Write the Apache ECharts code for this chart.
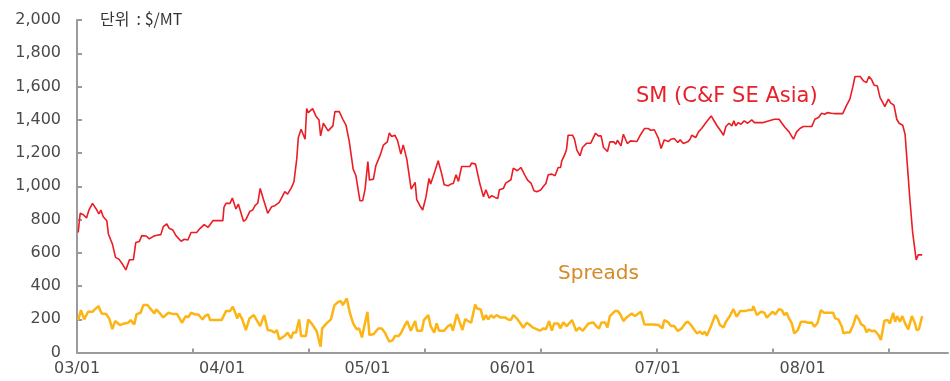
<!DOCTYPE html>
<html>
<head>
<meta charset="utf-8">
<script src="https://cdn.jsdelivr.net/npm/echarts@6/dist/echarts.min.js"></script>
<style>
  html, body { margin: 0; padding: 0; background: #ffffff; }
  #chart { width: 950px; height: 381px; }
</style>
</head>
<body>
<div id="chart"></div>
<script>
// Axis labels (yy/mm) and unit caption
const xLabels = ['03/01', '04/01', '05/01', '06/01', '07/01', '08/01'];
const axisEndLabel = '09/01';
const unitText = '단위  : $/MT';
const smName = 'SM (C&F SE Asia)';
const spreadName = 'Spreads';

// SM price, C&F South-East Asia ($/MT)
const smPrice = [
  ['2003-01-04',722],['2003-01-09',837],['2003-01-17',829],['2003-01-25',809],['2003-01-31',857],
  ['2003-02-09',897],['2003-02-20',857],['2003-02-25',833],['2003-03-02',857],['2003-03-08',817],
  ['2003-03-17',793],['2003-03-21',713],['2003-03-31',653],['2003-04-08',572],['2003-04-17',560],
  ['2003-04-26',529],['2003-05-04',497],['2003-05-13',558],['2003-05-23',558],['2003-05-29',662],
  ['2003-06-07',668],['2003-06-13',703],['2003-06-24',701],['2003-07-02',683],['2003-07-12',699],
  ['2003-07-21',705],['2003-07-31',709],['2003-08-06',757],['2003-08-15',773],['2003-08-21',747],
  ['2003-08-30',737],['2003-09-07',703],['2003-09-20',669],['2003-09-28',681],['2003-10-07',677],
  ['2003-10-15',722],['2003-10-29',722],['2003-11-07',747],['2003-11-17',769],['2003-11-27',753],
  ['2003-12-09',793],['2004-01-03',793],['2004-01-06',875],['2004-01-11',897],['2004-01-21',897],
  ['2004-01-27',929],['2004-02-05',863],['2004-02-11',893],['2004-02-24',789],['2004-03-01',799],
  ['2004-03-11',849],['2004-03-18',857],['2004-03-24',883],['2004-03-31',899],['2004-04-06',987],
  ['2004-04-14',923],['2004-04-25',837],['2004-05-05',877],['2004-05-13',883],['2004-05-24',903],
  ['2004-06-07',967],['2004-06-14',953],['2004-06-24',993],['2004-06-30',1027],['2004-07-07',1163],
  ['2004-07-11',1293],['2004-07-18',1343],['2004-07-28',1283],['2004-08-01',1467],['2004-08-05',1443],
  ['2004-08-16',1467],['2004-08-24',1423],['2004-09-01',1399],['2004-09-05',1303],['2004-09-12',1379],
  ['2004-09-24',1333],['2004-10-06',1363],['2004-10-11',1449],['2004-10-22',1449],['2004-10-31',1403],
  ['2004-11-08',1367],['2004-11-16',1273],['2004-11-26',1103],['2004-12-03',1063],['2004-12-13',913],
  ['2004-12-20',913],['2004-12-26',983],['2005-01-02',1148],['2005-01-06',1037],['2005-01-16',1043],
  ['2005-01-22',1123],['2005-02-02',1187],['2005-02-06',1187],['2005-02-10',1247],['2005-02-20',1267],
  ['2005-02-25',1321],['2005-03-03',1299],['2005-03-11',1307],['2005-03-18',1273],['2005-03-26',1193],
  ['2005-04-01',1249],['2005-04-10',1163],['2005-04-21',983],['2005-05-01',1023],['2005-05-05',919],
  ['2005-05-13',883],['2005-05-20',857],['2005-05-28',933],['2005-06-05',1047],['2005-06-09',1013],
  ['2005-06-20',1093],['2005-06-28',1153],['2005-07-07',1073],['2005-07-13',1009],['2005-07-23',1003],
  ['2005-07-30',1013],['2005-08-05',1017],['2005-08-12',1069],['2005-08-18',1029],['2005-08-26',1119],
  ['2005-09-16',1119],['2005-09-20',1139],['2005-09-30',1133],['2005-10-11',1013],['2005-10-20',937],
  ['2005-10-26',979],['2005-11-03',929],['2005-11-10',943],['2005-11-18',933],['2005-11-25',927],
  ['2005-11-29',979],['2005-12-09',987],['2005-12-15',1019],['2005-12-20',1013],['2005-12-28',1039],
  ['2006-01-03',1109],['2006-01-13',1093],['2006-01-22',1113],['2006-02-02',1063],['2006-02-08',1037],
  ['2006-02-17',1017],['2006-02-24',973],['2006-03-03',967],['2006-03-13',977],['2006-03-21',1003],
  ['2006-03-26',1017],['2006-04-01',1069],['2006-04-10',1073],['2006-04-18',1063],['2006-04-26',1113],
  ['2006-05-02',1113],['2006-05-05',1153],['2006-05-13',1193],['2006-05-17',1223],['2006-05-21',1307],
  ['2006-06-01',1307],['2006-06-06',1283],['2006-06-12',1217],['2006-06-20',1183],['2006-06-26',1233],
  ['2006-07-07',1259],['2006-07-17',1259],['2006-07-29',1319],['2006-08-05',1303],['2006-08-12',1303],
  ['2006-08-18',1233],['2006-08-28',1209],['2006-09-03',1267],['2006-09-13',1267],['2006-09-18',1253],
  ['2006-09-22',1277],['2006-10-01',1243],['2006-10-07',1313],['2006-10-17',1257],['2006-10-25',1273],
  ['2006-11-10',1269],['2006-11-20',1313],['2006-11-29',1347],['2006-12-09',1347],['2006-12-15',1337],
  ['2006-12-24',1340],['2007-01-03',1290],['2007-01-10',1227],['2007-01-18',1279],['2007-01-28',1269],
  ['2007-02-04',1283],['2007-02-12',1287],['2007-02-21',1263],['2007-02-27',1279],['2007-03-07',1257],
  ['2007-03-18',1267],['2007-03-24',1283],['2007-03-28',1307],['2007-04-07',1293],['2007-04-14',1327],
  ['2007-04-22',1347],['2007-05-03',1383],['2007-05-16',1423],['2007-05-21',1403],['2007-05-30',1367],
  ['2007-06-10',1329],['2007-06-16',1307],['2007-06-22',1359],['2007-06-30',1379],['2007-07-07',1363],
  ['2007-07-12',1393],['2007-07-17',1363],['2007-07-23',1383],['2007-07-30',1373],['2007-08-07',1393],
  ['2007-08-16',1379],['2007-08-26',1399],['2007-09-02',1383],['2007-09-24',1383],['2007-10-07',1393],
  ['2007-10-22',1403],['2007-11-03',1403],['2007-11-10',1379],['2007-11-18',1353],['2007-11-28',1327],
  ['2007-12-09',1283],['2007-12-17',1327],['2007-12-26',1349],['2008-01-03',1359],['2008-01-24',1359],
  ['2008-02-01',1403],['2008-02-10',1413],['2008-02-18',1439],['2008-02-26',1433],['2008-03-03',1443],
  ['2008-03-14',1439],['2008-03-23',1437],['2008-04-11',1437],['2008-04-21',1488],['2008-04-29',1524],
  ['2008-05-06',1593],['2008-05-12',1660],['2008-05-25',1660],['2008-06-02',1634],['2008-06-10',1624],
  ['2008-06-16',1660],['2008-06-23',1640],['2008-06-29',1608],['2008-07-07',1604],['2008-07-14',1533],
  ['2008-07-21',1503],['2008-07-26',1479],['2008-08-04',1524],['2008-08-10',1500],['2008-08-18',1488],
  ['2008-08-25',1403],['2008-08-31',1379],['2008-09-09',1367],['2008-09-15',1313],['2008-09-19',1183],
  ['2008-09-27',923],['2008-10-04',722],['2008-10-13',557],['2008-10-18',587],['2008-10-28',587]
];

// Spread over feedstock ($/MT)
const spreads = [
  ['2003-01-04',195],['2003-01-11',255],['2003-01-19',199],['2003-01-29',245],['2003-02-09',245],
  ['2003-02-15',259],['2003-02-24',279],['2003-03-04',235],['2003-03-15',231],['2003-03-23',205],
  ['2003-03-31',141],['2003-04-07',189],['2003-04-19',165],['2003-04-30',175],['2003-05-10',179],
  ['2003-05-16',195],['2003-05-25',169],['2003-05-31',231],['2003-06-10',239],['2003-06-17',285],
  ['2003-06-28',285],['2003-07-06',259],['2003-07-15',235],['2003-07-19',259],['2003-07-29',235],
  ['2003-08-06',211],['2003-08-19',239],['2003-08-31',231],['2003-09-10',231],['2003-09-22',179],
  ['2003-09-27',179],['2003-10-02',219],['2003-10-08',211],['2003-10-15',239],['2003-10-25',229],
  ['2003-11-02',229],['2003-11-07',215],['2003-11-13',199],['2003-11-19',219],['2003-11-27',229],
  ['2003-12-02',195],['2003-12-31',195],['2004-01-11',249],['2004-01-21',249],['2004-01-28',275],
  ['2004-02-03',241],['2004-02-08',205],['2004-02-13',235],['2004-02-21',199],['2004-03-01',135],
  ['2004-03-10',205],['2004-03-21',225],['2004-03-26',219],['2004-04-06',159],['2004-04-16',225],
  ['2004-04-25',135],['2004-05-05',131],['2004-05-12',119],['2004-05-18',135],['2004-05-24',79],
  ['2004-06-06',99],['2004-06-14',119],['2004-06-23',85],['2004-06-28',121],['2004-07-05',119],
  ['2004-07-13',199],['2004-07-18',99],['2004-07-30',99],['2004-08-05',199],['2004-08-15',169],
  ['2004-08-26',129],['2004-09-05',35],['2004-09-09',145],['2004-09-20',175],['2004-10-01',199],
  ['2004-10-10',285],['2004-10-20',305],['2004-10-26',309],['2004-10-31',285],['2004-11-10',325],
  ['2004-11-18',235],['2004-11-26',175],['2004-12-05',139],['2004-12-11',145],['2004-12-18',91],
  ['2005-01-01',245],['2005-01-06',105],['2005-01-17',111],['2005-01-28',145],['2005-02-06',145],
  ['2005-02-14',119],['2005-02-25',65],['2005-03-06',75],['2005-03-11',99],['2005-03-20',99],
  ['2005-03-26',115],['2005-04-04',159],['2005-04-11',189],['2005-04-20',131],['2005-05-01',189],
  ['2005-05-06',131],['2005-05-18',131],['2005-05-23',195],['2005-06-03',225],['2005-06-09',159],
  ['2005-06-18',119],['2005-06-24',175],['2005-06-30',131],['2005-07-13',131],['2005-07-21',155],
  ['2005-07-30',169],['2005-08-04',131],['2005-08-14',231],['2005-08-19',225],['2005-08-28',135],
  ['2005-09-04',201],['2005-09-10',191],['2005-09-19',179],['2005-09-29',289],['2005-10-04',265],
  ['2005-10-13',259],['2005-10-20',195],['2005-10-26',225],['2005-11-01',199],['2005-11-08',225],
  ['2005-11-14',209],['2005-11-22',225],['2005-12-01',211],['2005-12-13',211],['2005-12-21',199],
  ['2005-12-28',195],['2006-01-03',225],['2006-01-12',205],['2006-01-20',179],['2006-01-28',149],
  ['2006-02-06',179],['2006-02-14',165],['2006-02-22',149],['2006-03-11',131],['2006-03-20',145],
  ['2006-03-26',139],['2006-04-03',189],['2006-04-10',131],['2006-04-16',175],['2006-04-26',175],
  ['2006-05-01',145],['2006-05-09',181],['2006-05-17',159],['2006-05-31',195],['2006-06-10',131],
  ['2006-06-18',149],['2006-06-27',131],['2006-07-11',175],['2006-07-23',181],['2006-08-01',155],
  ['2006-08-07',145],['2006-08-13',181],['2006-08-22',181],['2006-08-28',151],['2006-09-03',219],
  ['2006-09-16',249],['2006-09-23',249],['2006-09-29',231],['2006-10-07',189],['2006-10-15',211],
  ['2006-10-28',235],['2006-11-05',219],['2006-11-20',245],['2006-11-29',169],['2006-12-11',169],
  ['2006-12-21',169],['2007-01-03',165],['2007-01-13',145],['2007-01-18',195],['2007-01-28',181],
  ['2007-02-04',159],['2007-02-12',159],['2007-02-21',129],['2007-03-03',145],['2007-03-13',179],
  ['2007-03-19',185],['2007-03-28',159],['2007-04-10',115],['2007-04-18',125],['2007-04-24',111],
  ['2007-04-30',125],['2007-05-05',101],['2007-05-15',155],['2007-05-26',225],['2007-06-01',205],
  ['2007-06-07',165],['2007-06-16',151],['2007-06-22',185],['2007-07-01',215],['2007-07-11',261],
  ['2007-07-19',215],['2007-07-28',249],['2007-08-09',249],['2007-08-18',255],['2007-08-28',255],
  ['2007-08-30',279],['2007-09-08',225],['2007-09-18',245],['2007-09-27',239],['2007-10-03',209],
  ['2007-10-11',229],['2007-10-18',245],['2007-10-24',229],['2007-11-03',261],['2007-11-10',255],
  ['2007-11-16',225],['2007-11-22',239],['2007-11-28',205],['2007-12-05',175],['2007-12-11',115],
  ['2007-12-20',135],['2007-12-28',185],['2008-01-07',185],['2008-01-15',179],['2008-01-24',181],
  ['2008-01-31',155],['2008-02-08',179],['2008-02-16',255],['2008-02-24',239],['2008-03-04',239],
  ['2008-03-18',239],['2008-03-23',205],['2008-03-31',199],['2008-04-09',155],['2008-04-13',115],
  ['2008-04-21',121],['2008-04-29',121],['2008-05-08',169],['2008-05-15',225],['2008-05-22',199],
  ['2008-05-27',171],['2008-06-04',159],['2008-06-10',121],['2008-06-15',139],['2008-06-23',129],
  ['2008-07-01',131],['2008-07-10',105],['2008-07-16',75],['2008-07-25',191],['2008-08-02',195],
  ['2008-08-08',175],['2008-08-16',239],['2008-08-21',185],['2008-08-26',219],['2008-09-02',185],
  ['2008-09-08',219],['2008-09-15',175],['2008-09-23',139],['2008-10-02',219],['2008-10-10',175],
  ['2008-10-14',135],['2008-10-20',141],['2008-10-28',219]
];

// Dates are placed on a day-count axis starting 2003-01-01
const DAY_MS = 86400000;
const ORIGIN = Date.UTC(2003, 0, 1);
function dayOfDate(s) {
  const [y, m, d] = s.split('-').map(Number);
  return (Date.UTC(y, m - 1, d) - ORIGIN) / DAY_MS;
}
function dayOfLabel(l) {
  const [yy, mm] = l.split('/').map(Number);
  return (Date.UTC(2000 + yy, mm - 1, 1) - ORIGIN) / DAY_MS;
}
const labelDays = xLabels.map(dayOfLabel);
const axisEnd = dayOfLabel(axisEndLabel);
// tick marks every 200 trading days (~292 calendar days)
const tickStep = 292;
const tickDays = [];
for (let v = 0; v < axisEnd; v += tickStep) tickDays.push(v);

const toPoints = arr => arr.map(([d, v]) => [dayOfDate(d), v]);
const fmtComma = v => String(v).replace(/\B(?=(\d{3})+(?!\d))/g, ',');

const AXIS_GRAY = '#9b9b9b';
const TEXT_FONT = '"DejaVu Sans", "Liberation Sans", sans-serif';

const chart = echarts.init(document.getElementById('chart'), null, { renderer: 'canvas' });
chart.setOption({
  animation: false,
  backgroundColor: '#ffffff',
  grid: { left: 77, right: 2, top: 20, bottom: 28.5, containLabel: false },
  xAxis: {
    type: 'value',
    min: 0,
    max: axisEnd,
    axisLine: { show: true, lineStyle: { color: AXIS_GRAY, width: 2 } },
    axisTick: {
      show: true, inside: true, length: 4, customValues: tickDays,
      lineStyle: { color: AXIS_GRAY, width: 2 }
    },
    axisLabel: {
      customValues: labelDays,
      formatter: v => {
        const i = labelDays.findIndex(d => Math.abs(d - v) < 1);
        return i >= 0 ? xLabels[i] : '';
      },
      color: '#4a4a4a', fontSize: 16, fontFamily: TEXT_FONT, margin: 8
    },
    splitLine: { show: false }
  },
  yAxis: {
    type: 'value',
    min: 0, max: 2000, interval: 200,
    axisLine: { show: true, lineStyle: { color: AXIS_GRAY, width: 2 } },
    axisTick: { show: true, inside: true, length: 5, lineStyle: { color: AXIS_GRAY, width: 2 } },
    axisLabel: { formatter: fmtComma, color: '#4a4a4a', fontSize: 16, fontFamily: TEXT_FONT, margin: 16 },
    splitLine: { show: false }
  },
  series: [
    {
      name: spreadName, type: 'line', data: toPoints(spreads),
      showSymbol: false, symbol: 'none',
      lineStyle: { color: '#fdb515', width: 2.5 }, z: 2
    },
    {
      name: smName, type: 'line', data: toPoints(smPrice),
      showSymbol: false, symbol: 'none',
      lineStyle: { color: '#ec1c24', width: 1.6 }, z: 3
    }
  ],
  graphic: [
    {
      type: 'text', left: 100, top: 11,
      style: { text: unitText, fill: '#333333', font: '16px "Noto Sans CJK KR", "DejaVu Sans", sans-serif' }
    },
    {
      type: 'text', left: 636, top: 86,
      style: { text: smName, fill: '#e8202a', font: '21px "DejaVu Sans", sans-serif' }
    },
    {
      type: 'text', left: 558, top: 264,
      style: { text: spreadName, fill: '#d58a26', font: '20px "DejaVu Sans", sans-serif' }
    }
  ]
});
</script>
</body>
</html>
